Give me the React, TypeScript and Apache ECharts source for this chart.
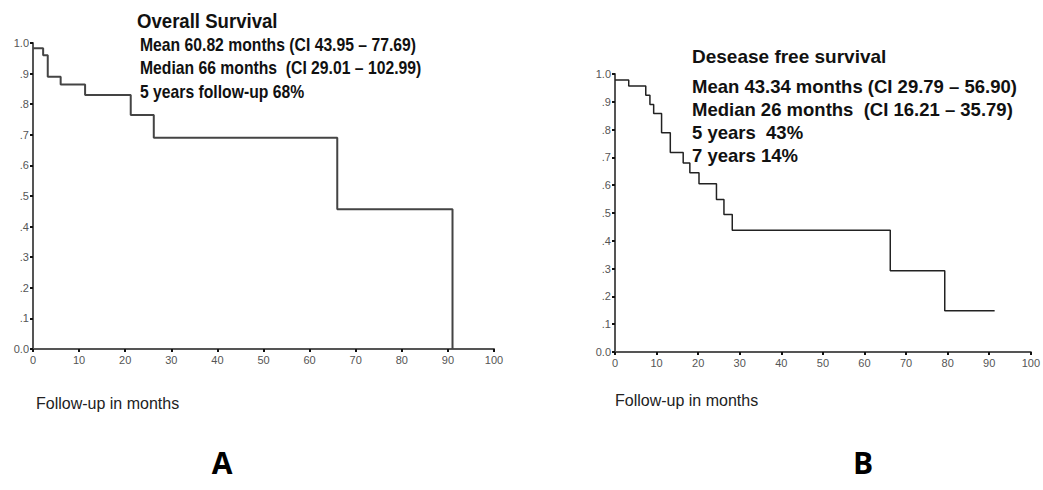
import React, { useEffect, useRef } from "react";
import * as echarts from "echarts";

// Overall survival (chart A)
const osMonths = [0, 2.2, 3.2, 6, 11.3, 21.2, 26.2, 66, 91];
const osSurvival = [0.983, 0.96, 0.89, 0.864, 0.83, 0.765, 0.69, 0.457, 0];

// Disease free survival (chart B)
const dfsMonths = [0, 3.3, 7.4, 8.4, 9.3, 11.2, 13.3, 16.4, 18, 20.2, 24.4, 26.2, 28.2, 66.2, 79.3, 91.3];
const dfsSurvival = [0.978, 0.957, 0.924, 0.89, 0.858, 0.789, 0.718, 0.68, 0.645, 0.605, 0.549, 0.495, 0.438, 0.292, 0.148, 0.148];

const osText = [
  "Mean 60.82 months (CI 43.95 – 77.69)",
  "Median 66 months  (CI 29.01 – 102.99)",
  "5 years follow-up 68%",
];
const dfsText = [
  "Mean 43.34 months (CI 29.79 – 56.90)",
  "Median 26 months  (CI 16.21 – 35.79)",
  "5 years  43%",
  "7 years 14%",
];
const osTitle = "Overall Survival";
const dfsTitle = "Desease free survival";
const xName = "Follow-up in months";

const FONT = "'Liberation Sans', Arial, sans-serif";

function yFmt(v: number) {
  if (v === 0) return "0.0";
  if (Math.abs(v - 1) < 1e-6) return "1.0";
  return "." + Math.round(v * 10);
}

function axisPair(gi: number) {
  const common = {
    gridIndex: gi,
    axisLine: { show: true, lineStyle: { color: "#555", width: 2 } },
    axisTick: { show: true, inside: false, length: 3, lineStyle: { color: "#111", width: 2 } },
    splitLine: { show: false },
    axisLabel: { color: "#555", fontSize: 11, fontFamily: FONT, margin: 5 },
  };
  return {
    x: { ...common, type: "value", min: 0, max: 100, interval: 10 },
    y: {
      ...common,
      type: "value",
      min: 0,
      max: 1,
      interval: 0.1,
      axisLabel: { ...common.axisLabel, margin: 4, formatter: yFmt },
    },
  };
}

export default function App() {
  const ref = useRef<HTMLDivElement>(null);
  useEffect(() => {
    if (!ref.current) return;
    const chart = echarts.init(ref.current, undefined, { renderer: "svg" });
    const a = axisPair(0);
    const b = axisPair(1);
    const textEls: any[] = [];
    textEls.push({
      type: "text", x: 137, y: 11, scaleX: 0.93,
      style: { text: osTitle, font: `bold 20px ${FONT}`, fill: "#111", textVerticalAlign: "top" },
    });
    osText.forEach((t, i) => {
      textEls.push({
        type: "text", x: 140, y: 35 + i * 23.5, scaleX: 0.85,
        style: { text: t, font: `bold 18.5px ${FONT}`, fill: "#111", textVerticalAlign: "top" },
      });
    });
    textEls.push({
      type: "text", x: 692, y: 47,
      style: { text: dfsTitle, font: `bold 19px ${FONT}`, fill: "#111", textVerticalAlign: "top" },
    });
    dfsText.forEach((t, i) => {
      textEls.push({
        type: "text", x: 692, y: 77 + i * 23,
        style: { text: t, font: `bold 18.5px ${FONT}`, fill: "#111", textVerticalAlign: "top" },
      });
    });
    textEls.push({
      type: "text", x: 36, y: 395,
      style: { text: xName, font: `16px ${FONT}`, fill: "#222", textVerticalAlign: "top" },
    });
    textEls.push({
      type: "text", x: 615, y: 392,
      style: { text: xName, font: `16px ${FONT}`, fill: "#222", textVerticalAlign: "top" },
    });
    textEls.push({
      type: "text", x: 222, y: 462,
      style: { text: "A", font: `bold 30px 'Open Sans', sans-serif`, fill: "#000", textAlign: "center", textVerticalAlign: "middle" },
    });
    textEls.push({
      type: "text", x: 863, y: 462,
      style: { text: "B", font: `bold 30px 'Open Sans', sans-serif`, fill: "#000", textAlign: "center", textVerticalAlign: "middle" },
    });

    chart.setOption({
      animation: false,
      backgroundColor: "#fff",
      grid: [
        { left: 33, top: 43, width: 461, height: 306 },
        { left: 615, top: 74, width: 417, height: 278 },
      ],
      xAxis: [a.x, b.x],
      yAxis: [a.y, b.y],
      series: [
        {
          type: "line",
          xAxisIndex: 0,
          yAxisIndex: 0,
          step: "end",
          symbol: "none",
          lineStyle: { color: "#444", width: 2 },
          data: osMonths.map((m, i) => [m, osSurvival[i]]),
        },
        {
          type: "line",
          xAxisIndex: 1,
          yAxisIndex: 1,
          step: "end",
          symbol: "none",
          lineStyle: { color: "#222", width: 1.5 },
          data: dfsMonths.map((m, i) => [m, dfsSurvival[i]]),
        },
      ],
      graphic: textEls,
    });
    return () => chart.dispose();
  }, []);
  return (
    <div
      ref={ref}
      style={{ position: "absolute", left: 0, top: 0, width: 1043, height: 490, background: "#fff" }}
    />
  );
}
